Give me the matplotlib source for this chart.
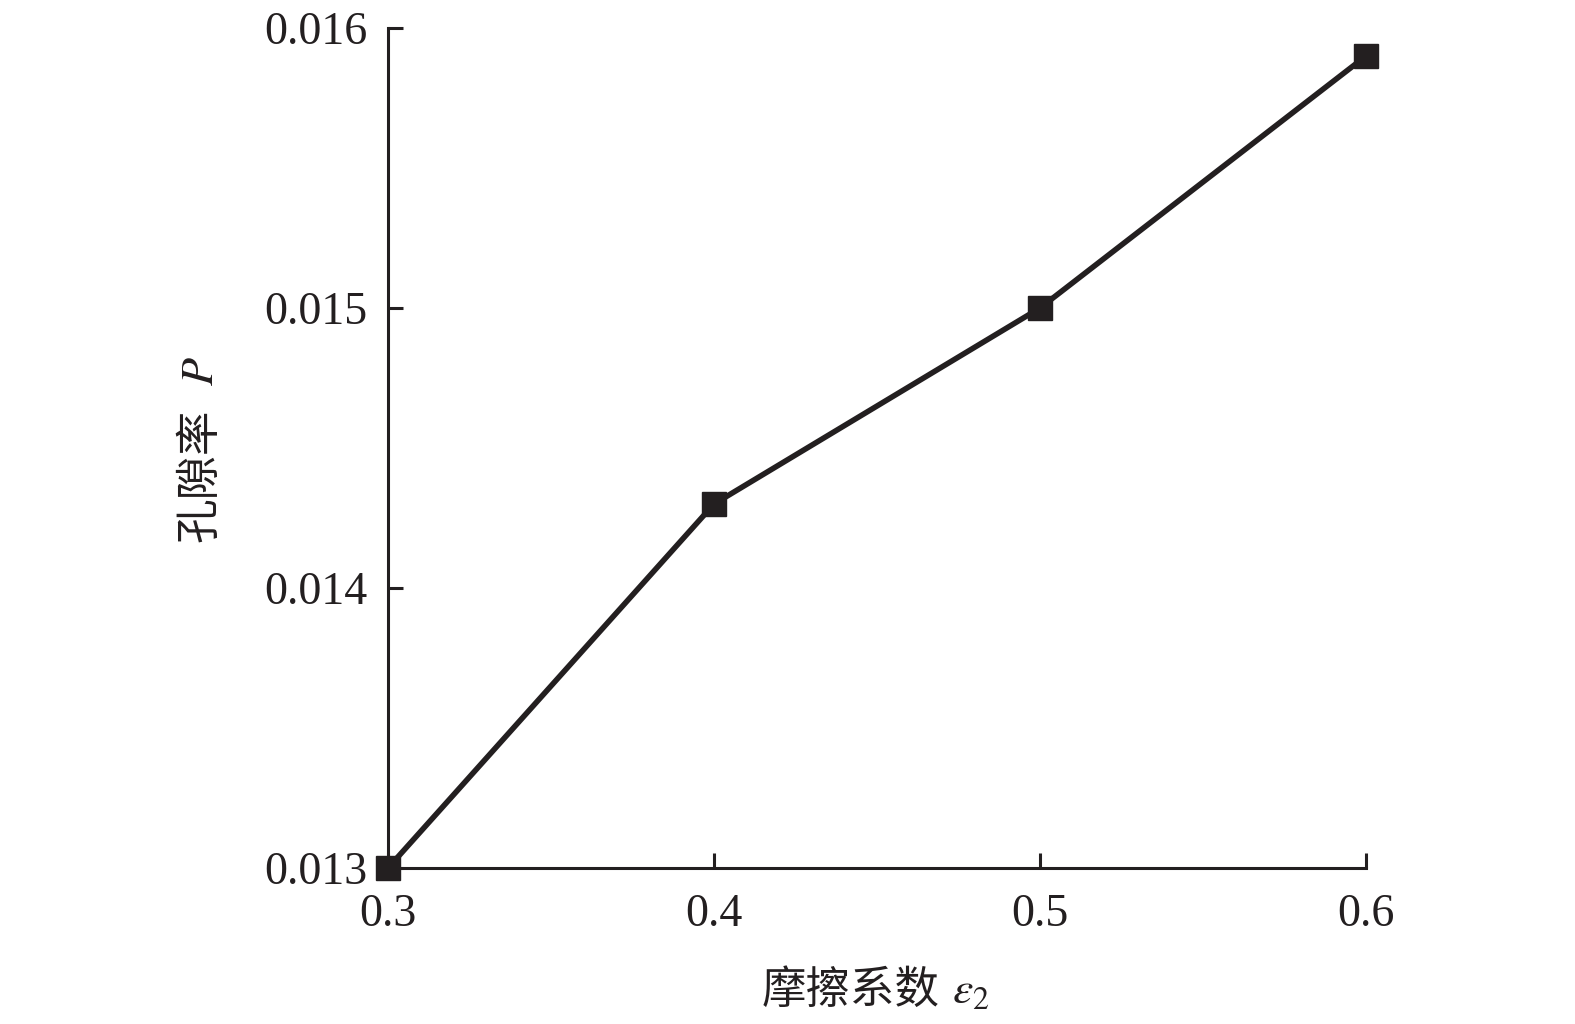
import numpy as np
import matplotlib
matplotlib.use("Agg")
import matplotlib.pyplot as plt

plt.rcParams['font.family'] = ['Liberation Serif', 'Noto Sans CJK SC', 'DejaVu Sans']
plt.rcParams['mathtext.fontset'] = 'stix'

# friction coefficient vs porosity
friction = [0.3, 0.4, 0.5, 0.6]
porosity = [0.0130, 0.0143, 0.0150, 0.0159]
xticks = [0.3, 0.4, 0.5, 0.6]
yticks = [0.013, 0.014, 0.015, 0.016]
xlabel_cn = '摩擦系数'
ylabel_cn = '孔隙率'

W, H = 1575, 1024
fig = plt.figure(figsize=(W / 100, H / 100), dpi=100)
ax = fig.add_axes([388 / W, 1 - 868 / H, (1366 - 388) / W, (868 - 28) / H])

col = '#231f20'
ax.plot(friction, porosity, color=col, lw=4, marker='s', ms=17,
        markerfacecolor=col, markeredgecolor=col, clip_on=False, zorder=3)

ax.set_xlim(0.3, 0.6)
ax.set_ylim(0.013, 0.016)
ax.set_xticks(xticks)
ax.set_xticklabels(['0.3', '0.4', '0.5', '0.6'])
ax.set_yticks(yticks)
ax.set_yticklabels(['0.013', '0.014', '0.015', '0.016'])

ax.spines['top'].set_visible(False)
ax.spines['right'].set_visible(False)
for s in ['left', 'bottom']:
    ax.spines[s].set_linewidth(2.2)
    ax.spines[s].set_color(col)

ax.tick_params(axis='both', direction='in', length=11, width=2.2, colors=col,
               labelsize=33, labelcolor=col)
ax.tick_params(axis='y', pad=15)
ax.tick_params(axis='x', pad=18)

# axis titles: chinese part and math part drawn separately so CJK glyphs render
def px(x, y):
    return x / W, 1 - y / H

fig.text(*px(762, 1003), xlabel_cn, fontsize=32, color=col, ha='left', va='baseline',
         family=['Noto Sans CJK SC'], fontweight='light')
fig.text(*px(952, 1003), '$\\varepsilon_2$', fontsize=33, color=col, ha='left', va='baseline')

fig.text(*px(212, 542), ylabel_cn, fontsize=32, color=col, rotation=90, rotation_mode='anchor',
         ha='left', va='baseline', family=['Noto Sans CJK SC'], fontweight='light')
fig.text(*px(213, 386), '$P$', fontsize=33, color=col, rotation=90, rotation_mode='anchor',
         ha='left', va='baseline')

fig.savefig('out.png', dpi=100, facecolor='white')
